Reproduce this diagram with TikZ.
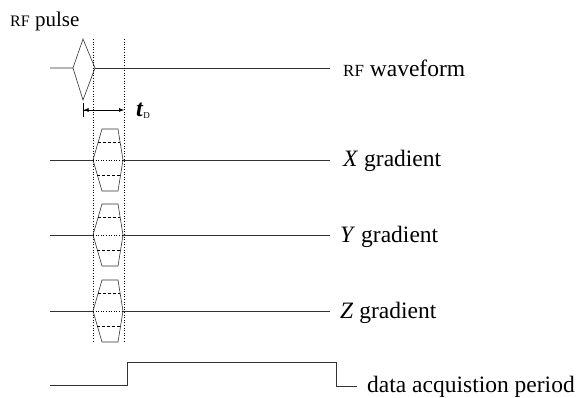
\documentclass[tikz,border=0pt]{standalone}
\usepackage{fontspec}
\setmainfont{Liberation Serif}
\usetikzlibrary{arrows.meta,calc}
\begin{document}
\begin{tikzpicture}[x=1pt,y=-1pt,
  wave/.style={line width=0.6pt,black!80},
  guide/.style={line width=0.6pt,dotted},
  inner/.style={line width=0.5pt,densely dashed},
  lbl/.style={anchor=base west,inner sep=0pt,font=\fontsize{23.5}{26}\selectfont}]
\useasboundingbox (0,0) rectangle (583,398);
% RF pulse label
\node[lbl,font=\fontsize{21}{24}\selectfont] (rfp) at (10,27) {{\fontsize{16}{18}\selectfont RF} pulse};
% RF waveform
\coordinate (rfL) at (50,68);
\coordinate (rfE) at (330,68);
\coordinate (dl) at (73,68);
\coordinate (dt) at (83,39);
\coordinate (dr) at (95,68);
\coordinate (db) at (83,100);
\draw[wave] (rfL) -- (dl) -- (dt) -- (dr) -- (db) -- (dl);
\draw[wave] (dr) -- (rfE);
\node[lbl] (rfw) at (343,77) {{\fontsize{17}{20}\selectfont RF} waveform};
% guides
\coordinate (g1t) at (93.5,39);
\coordinate (g1b) at (93.5,342);
\coordinate (g2t) at (124,39);
\coordinate (g2b) at (124,342);
\draw[guide] (g1t) -- (g1b);
\draw[guide] (g2t) -- (g2b);
% t_D dimension
\coordinate (tdl) at (83,110);
\coordinate (tdr) at (124,110);
\draw[line width=0.6pt,{Bar[width=14pt]Latex[length=5pt,width=4pt]}-{Latex[length=5pt,width=4pt]}] (tdl) -- (tdr);
\node[lbl,font=\fontsize{24}{26}\selectfont] (td) at (136,117) {\textbf{\textit{t}}\raisebox{-2pt}{\fontsize{9}{10}\selectfont D}};
% gradients
\foreach \b/\nm/\lx/\lab in {160/X/343/{\textit{X} gradient},235/Y/340/{\textit{Y} gradient},311/Z/340/{\textit{Z} gradient}}{
  \coordinate (l\nm) at (50,\b);
  \coordinate (a\nm) at (93,\b);
  \coordinate (b\nm) at (102,\b-31);
  \coordinate (c\nm) at (118,\b-31);
  \coordinate (d\nm) at (123,\b);
  \coordinate (e\nm) at (118,\b+31);
  \coordinate (f\nm) at (102,\b+31);
  \coordinate (r\nm) at (330,\b);
  \draw[wave] (l\nm) -- (a\nm);
  \draw[wave] (a\nm) -- (b\nm) -- (c\nm) -- (d\nm) -- (e\nm) -- (f\nm) -- cycle;
  \draw[wave] (d\nm) -- (r\nm);
  \draw[guide] (a\nm) -- (d\nm);
  \draw[inner] ($(a\nm)!0.58!(b\nm)$) -- ($(d\nm)!0.58!(c\nm)$);
  \draw[inner] ($(a\nm)!0.48!(f\nm)$) -- ($(d\nm)!0.48!(e\nm)$);
  \node[lbl] (t\nm) at (\lx,\b+7) {\lab};
}
% data acquisition
\coordinate (q0) at (50,385);
\coordinate (q1) at (127,385);
\coordinate (q2) at (127,362);
\coordinate (q3) at (336,362);
\coordinate (q4) at (336,386);
\coordinate (q5) at (357,386);
\draw[wave] (q0) -- (q1) -- (q2) -- (q3) -- (q4) -- (q5);
\node[lbl] (dap) at (367,392) {data acquistion period};
\end{tikzpicture}
\end{document}
